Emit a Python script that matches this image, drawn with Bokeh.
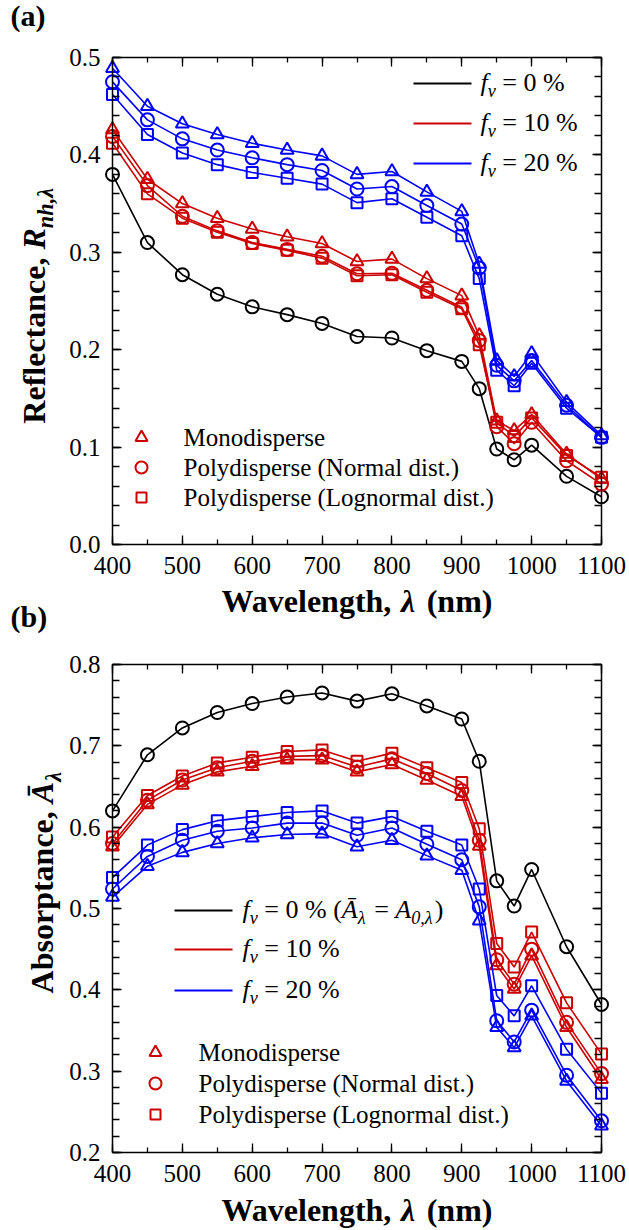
from bokeh.plotting import figure
from bokeh.models import (Range1d, LinearAxis, Label, FixedTicker, PrintfTickFormatter,
                          CustomJSTickFormatter)
from bokeh.embed import file_html
from bokeh.resources import INLINE

# ---------------- data ----------------
wavelength = [400, 450, 500, 550, 600, 650, 700, 750, 800, 850, 900, 925, 950, 975, 1000, 1050, 1100]

# (a) reflectance
R_fv0 = [0.380, 0.310, 0.277, 0.257, 0.244, 0.236, 0.227, 0.2135, 0.212, 0.199, 0.188, 0.160, 0.098, 0.087, 0.102, 0.070, 0.049]
R_fv10_mono = [0.426, 0.375, 0.350, 0.335, 0.324, 0.316, 0.309, 0.2905, 0.293, 0.273, 0.2555, 0.2145, 0.127, 0.117, 0.1335, 0.093, 0.0675]
R_fv10_norm = [0.419, 0.3685, 0.337, 0.322, 0.310, 0.303, 0.296, 0.278, 0.2785, 0.261, 0.2435, 0.2095, 0.121, 0.1035, 0.1255, 0.086, 0.062]
R_fv10_logn = [0.412, 0.360, 0.335, 0.3205, 0.309, 0.302, 0.294, 0.276, 0.277, 0.259, 0.242, 0.205, 0.1255, 0.111, 0.130, 0.0915, 0.069]
R_fv20_mono = [0.489, 0.450, 0.432, 0.421, 0.412, 0.405, 0.399, 0.380, 0.383, 0.362, 0.342, 0.288, 0.189, 0.1725, 0.196, 0.146, 0.112]
R_fv20_norm = [0.475, 0.436, 0.4165, 0.405, 0.397, 0.390, 0.384, 0.365, 0.3675, 0.348, 0.329, 0.284, 0.184, 0.168, 0.189, 0.143, 0.110]
R_fv20_logn = [0.462, 0.421, 0.402, 0.390, 0.382, 0.376, 0.370, 0.351, 0.355, 0.336, 0.317, 0.273, 0.179, 0.163, 0.186, 0.140, 0.110]

# (b) absorptance
A_fv0 = [0.620, 0.689, 0.722, 0.741, 0.752, 0.760, 0.765, 0.755, 0.764, 0.749, 0.733, 0.681, 0.534, 0.503, 0.548, 0.453, 0.382]
A_fv10_mono = [0.576, 0.628, 0.652, 0.668, 0.675, 0.683, 0.683, 0.668, 0.677, 0.658, 0.638, 0.577, 0.430, 0.401, 0.442, 0.354, 0.290]
A_fv10_norm = [0.580, 0.633, 0.658, 0.673, 0.681, 0.687, 0.688, 0.674, 0.684, 0.666, 0.645, 0.584, 0.437, 0.407, 0.450, 0.360, 0.297]
A_fv10_logn = [0.588, 0.639, 0.663, 0.679, 0.686, 0.693, 0.695, 0.681, 0.691, 0.673, 0.655, 0.598, 0.457, 0.428, 0.471, 0.384, 0.321]
A_fv20_mono = [0.514, 0.552, 0.569, 0.580, 0.587, 0.591, 0.592, 0.576, 0.584, 0.565, 0.547, 0.485, 0.354, 0.329, 0.368, 0.288, 0.233]
A_fv20_norm = [0.524, 0.564, 0.584, 0.595, 0.599, 0.605, 0.605, 0.590, 0.599, 0.579, 0.560, 0.502, 0.362, 0.336, 0.375, 0.295, 0.239]
A_fv20_logn = [0.538, 0.578, 0.597, 0.608, 0.613, 0.618, 0.620, 0.605, 0.613, 0.595, 0.578, 0.524, 0.393, 0.368, 0.405, 0.327, 0.273]

x_ticks = [400, 500, 600, 700, 800, 900, 1000, 1100]
y_ticks_a = [0.0, 0.1, 0.2, 0.3, 0.4, 0.5]
y_ticks_b = [0.2, 0.3, 0.4, 0.5, 0.6, 0.7, 0.8]

line_labels_a = ["0 %", "10 %", "20 %"]
marker_labels = ["Monodisperse", "Polydisperse (Normal dist.)", "Polydisperse (Lognormal dist.)"]

# ---------------- layout / style ----------------
FONT = "Liberation Serif"
BLACK = "#000000"
RED = "#cc0000"
BLUE = "#0000ff"
MARKERS = ["triangle", "circle", "square"]
MSIZE = {"triangle": 13, "circle": 13, "square": 11}

W, H = 629, 1230
PX_L, PX_R = 112, 601           # panel left/right edges (px)
A_TOP, A_BOT = 57, 544          # panel (a) top/bottom (px)
B_TOP, B_BOT = 664, 1152        # panel (b) top/bottom (px)
XA, XB = 400, 1100
YA0, YA1 = 0.0, 0.5
YB0, YB1 = 0.2, 0.8
SHIFT = 0.36                    # baseline correction of Label text (fraction of font size)

kx = (XB - XA) / (PX_R - PX_L)
ka = (YA1 - YA0) / (A_BOT - A_TOP)
kb = (YB1 - YB0) / (B_BOT - B_TOP)

REG = {' ': 250, '%': 833, '(': 333, ')': 333, ',': 250, '.': 250, '=': 564, 'A': 722, 'L': 611,
       'M': 889, 'N': 722, 'P': 556, 'a': 444, 'b': 500, 'c': 444, 'd': 500, 'e': 444, 'f': 333,
       'g': 500, 'h': 500, 'i': 278, 'l': 278, 'm': 778, 'n': 500, 'o': 500, 'p': 500, 'r': 333,
       's': 389, 't': 278, 'u': 500, 'y': 500, 'v': 500, 'λ': 549}
ITAL = {'f': 278, 'v': 444, 'A': 611, 'Ā': 611, 'R': 611, 'n': 500, 'h': 500, ',': 250, 'λ': 549}
BOLD = {'W': 1000, 'a': 500, 'v': 500, 'e': 444, 'l': 278, 'n': 556, 'g': 500, 't': 333, 'h': 556,
        ',': 250, ' ': 250, '(': 333, ')': 333, 'm': 833, 'R': 722, 'f': 333, 'c': 444, 'A': 722,
        'b': 556, 's': 389, 'o': 500, 'r': 444, 'p': 556, 'λ': 549}
BI = {'R': 667, 'n': 556, 'h': 556, ',': 250, 'λ': 549, 'A': 667, 'Ā': 667}
TABLES = {"normal": REG, "italic": ITAL, "bold": BOLD, "bold italic": BI}


def text_width(t, style, size):
    tab = TABLES[style]
    return sum(tab.get(ch, 500) for ch in t) / 1000.0 * size


def conv(cx, cy):
    """page pixel -> coordinates of the default (panel a) ranges"""
    return XA + (cx - PX_L) * kx, YA0 + (A_BOT - cy) * ka


def put_runs(p, cx, cy, runs, size, angle=0.0, color="black"):
    pos = 0.0
    for t, style, sub in runs:
        s = size * 0.7 if sub else size
        off = (size * 0.25 if sub else 0.0) - SHIFT * s
        lead = len(t) - len(t.lstrip(' '))
        pos += text_width(' ' * lead, style, s)
        body = t.lstrip(' ')
        if body:
            if angle == 0.0:
                x, y = cx + pos, cy + off
            else:
                x, y = cx + off, cy - pos
            dx, dy = conv(x, y)
            p.add_layout(Label(x=dx, y=dy, text=body, text_font=FONT, text_font_size=f"{s:.1f}px",
                               text_font_style=style, text_baseline="alphabetic", text_align="left",
                               angle=angle, text_color=color))
        pos += text_width(body, style, s)
    return pos


def runs_width(runs, size):
    return sum(text_width(t, st, size * 0.7 if sub else size) for t, st, sub in runs)


p = figure(width=W, height=H,
           x_range=Range1d(XA - PX_L * kx, XA + (W - PX_L) * kx),
           y_range=Range1d(YA0 - (H - A_BOT) * ka, YA1 + A_TOP * ka),
           x_axis_location=None, y_axis_location=None,
           output_backend="svg", toolbar_location=None, min_border=0)
p.extra_y_ranges = {"b": Range1d(YB0 - (H - B_BOT) * kb, YB1 + B_TOP * kb)}
p.xgrid.visible = False
p.ygrid.visible = False
p.outline_line_color = None
p.background_fill_color = "white"
p.border_fill_color = "white"

blank = CustomJSTickFormatter(code="return ''")
xminor = list(range(XA, XB + 1, 50))


def style_axis(ax, labels, is_x):
    ax.axis_line_color = "black"
    ax.axis_line_width = 1.5
    ax.major_tick_line_color = "black"
    ax.minor_tick_line_color = "black"
    ax.major_tick_line_width = 1.3
    ax.minor_tick_line_width = 1.3
    ax.major_tick_out = 0
    ax.minor_tick_out = 0
    ax.major_tick_in = 9
    ax.minor_tick_in = 5 if is_x else 7
    ax.major_label_text_font = FONT
    ax.major_label_text_font_size = "25px"
    ax.major_label_text_color = "black"
    ax.major_label_standoff = 12 if labels else 0


def panel_axes(yrange_name, y0, y1, yticks):
    yminor = [round(y0 + i * 0.02, 3) for i in range(int(round((y1 - y0) / 0.02)) + 1)]
    kw = {} if yrange_name is None else {"y_range_name": yrange_name}
    specs = [
        ("below", dict(fixed_location=y0, bounds=(XA, XB),
                       ticker=FixedTicker(ticks=x_ticks, minor_ticks=xminor)), True, True),
        ("above", dict(fixed_location=y1, bounds=(XA, XB), formatter=blank,
                       ticker=FixedTicker(ticks=x_ticks, minor_ticks=xminor)), False, True),
        ("left", dict(fixed_location=XA, bounds=(y0, y1), formatter=PrintfTickFormatter(format="%.1f"),
                      ticker=FixedTicker(ticks=yticks, minor_ticks=yminor)), True, False),
        ("right", dict(fixed_location=XB, bounds=(y0, y1), formatter=blank,
                       ticker=FixedTicker(ticks=yticks, minor_ticks=yminor)), False, False),
    ]
    for place, opts, labels, is_x in specs:
        ax = LinearAxis(**opts, **kw)
        style_axis(ax, labels, is_x)
        p.add_layout(ax, place)


panel_axes(None, YA0, YA1, y_ticks_a)
panel_axes("b", YB0, YB1, y_ticks_b)


def draw_series(ys, color, marker, rname=None):
    kw = {} if rname is None else {"y_range_name": rname}
    p.line(wavelength, ys, line_color=color, line_width=1.6, **kw)
    p.scatter(wavelength, ys, marker=marker, size=MSIZE[marker], line_color=color,
              fill_color=None, line_width=2, **kw)


# ---------------- panel (a) ----------------
draw_series(R_fv0, BLACK, "circle")
for ys, m in zip([R_fv10_mono, R_fv10_norm, R_fv10_logn], MARKERS):
    draw_series(ys, RED, m)
for ys, m in zip([R_fv20_mono, R_fv20_norm, R_fv20_logn], MARKERS):
    draw_series(ys, BLUE, m)

for row, col, lab in zip([83, 123, 163], [BLACK, RED, BLUE], line_labels_a):
    (xa, ya), (xb, yb) = conv(413, row), conv(471, row)
    p.line([xa, xb], [ya, yb], line_color=col, line_width=1.8)
    put_runs(p, 480, row + 8, [("f", "italic", 0), ("v", "italic", 1), (" = " + lab, "normal", 0)], 26)

for row, m, lab in zip([437, 467, 497], MARKERS, marker_labels):
    xm, ym = conv(141, row)
    p.scatter([xm], [ym], marker=m, size=MSIZE[m] - 1, line_color=RED, fill_color=None, line_width=2)
    put_runs(p, 183, row + 9, [(lab, "normal", 0)], 25)

xt_runs = [("Wavelength, ", "bold", 0), ("λ", "bold italic", 0), (" (nm)", "bold", 0)]
wx = runs_width(xt_runs, 32)
put_runs(p, (PX_L + PX_R) / 2 - wx / 2, 612, xt_runs, 32)
yt_runs_a = [("Reflectance, ", "bold", 0), ("R", "bold italic", 0), ("nh,λ", "bold italic", 1)]
wy = runs_width(yt_runs_a, 32)
put_runs(p, 45, 304 + wy / 2, yt_runs_a, 32, angle=1.5707963267948966)
put_runs(p, 10, 26, [("(a)", "bold", 0)], 30)

# ---------------- panel (b) ----------------
draw_series(A_fv0, BLACK, "circle", "b")
for ys, m in zip([A_fv10_mono, A_fv10_norm, A_fv10_logn], MARKERS):
    draw_series(ys, RED, m, "b")
for ys, m in zip([A_fv20_mono, A_fv20_norm, A_fv20_logn], MARKERS):
    draw_series(ys, BLUE, m, "b")

legend_b = [
    [("f", "italic", 0), ("v", "italic", 1), (" = 0 % (", "normal", 0), ("Ā", "italic", 0), ("λ", "italic", 1),
     (" = ", "normal", 0), ("A", "italic", 0), ("0,λ", "italic", 1), (")", "normal", 0)],
    [("f", "italic", 0), ("v", "italic", 1), (" = 10 %", "normal", 0)],
    [("f", "italic", 0), ("v", "italic", 1), (" = 20 %", "normal", 0)],
]
for row, col, runs in zip([910, 949, 990], [BLACK, RED, BLUE], legend_b):
    (xa, ya), (xb, yb) = conv(174, row), conv(232, row)
    p.line([xa, xb], [ya, yb], line_color=col, line_width=1.8)
    put_runs(p, 242, row + 8, runs, 26)

for row, m, lab in zip([1052, 1083, 1114], MARKERS, marker_labels):
    xm, ym = conv(155, row)
    p.scatter([xm], [ym], marker=m, size=MSIZE[m] - 1, line_color=RED, fill_color=None, line_width=2)
    put_runs(p, 198, row + 9, [(lab, "normal", 0)], 25)

put_runs(p, (PX_L + PX_R) / 2 - wx / 2, 1221, xt_runs, 32)
yt_runs_b = [("Absorptance, ", "bold", 0), ("Ā", "bold italic", 0), ("λ", "bold italic", 1)]
wyb = runs_width(yt_runs_b, 32)
put_runs(p, 53, 881 + wyb / 2, yt_runs_b, 32, angle=1.5707963267948966)
put_runs(p, 10, 627, [("(b)", "bold", 0)], 30)

open("out.html", "w").write(file_html(p, INLINE))
